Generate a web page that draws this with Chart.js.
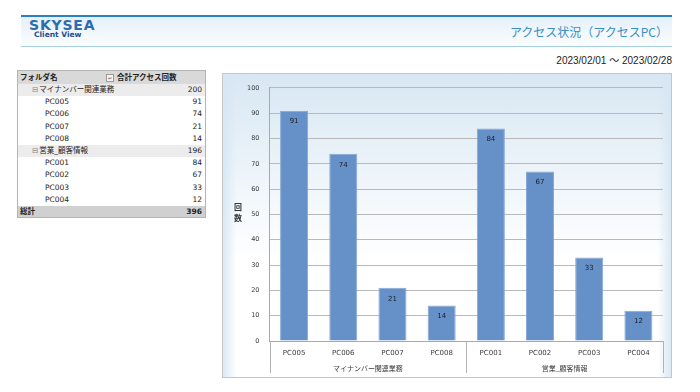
<!DOCTYPE html>
<html lang="ja">
<head>
<meta charset="utf-8">
<script src="https://cdn.jsdelivr.net/npm/chart.js@4/dist/chart.umd.min.js"></script>
<style>
  body { margin: 0; width: 700px; height: 392px; background: #fff; position: relative; overflow: hidden;
         font-family: "DejaVu Sans", "Noto Sans CJK JP", sans-serif; color: #222; }
  .band { position: absolute; left: 21px; top: 15px; width: 651px; height: 29px;
          border-top: 2px solid #2a80c2; border-bottom: 1px solid #a4cde6;
          background: linear-gradient(to bottom, #e4f0f9 0%, #f3f8fc 60%, #fbfdfe 100%); }
  .logo1 { position: absolute; left: 29px; top: 17px; font: bold 14px "DejaVu Sans", sans-serif;
           letter-spacing: 0.8px; color: #2b6db0; }
  .logo2 { position: absolute; left: 34px; top: 30px; font: bold 7.5px "DejaVu Sans", sans-serif; color: #1d4f8c; }
  .title { position: absolute; right: 32px; top: 23px; font: 12px "Noto Sans CJK JP", sans-serif; color: #3a8ec4; }
  .period { position: absolute; right: 28px; top: 52px; font: 10px "Liberation Sans", "Noto Sans CJK JP", sans-serif; color: #222; }
  .pivot { position: absolute; left: 17px; top: 70px; width: 187px; border: 1px solid #b4b4b4;
           font: 7.5px "DejaVu Sans", "Noto Sans CJK JP", sans-serif; }
  .pivot .row { position: relative; height: 12.2px; line-height: 12.2px; white-space: nowrap; }
  .pivot .row.head { height: 13px; line-height: 13px; background: #d9d9d9; font-weight: bold; }
  .pivot .row.group { background: #ececec; }
  .pivot .row.total { height: 11px; line-height: 11px; background: #d0d0d0; font-weight: bold; }
  .pivot .name { position: absolute; left: 2px; }
  .pivot .val { position: absolute; right: 3px; }
  .pivot .head .val { right: auto; left: 99px; }
  .pivot .filter { position: absolute; left: 88px; top: 3px; width: 6px; height: 6px; border: 1px solid #9a9a9a;
                   background: #f4f4f4; font-size: 5px; line-height: 6px; text-align: center; font-weight: normal; color: #555; }
  .pivot .toggle { color: #888; margin-right: 1px; }
  .chartbox { position: absolute; left: 222px; top: 73px; width: 450px; height: 305px; box-sizing: border-box;
              border: 1px solid #c6c6c6;
              background:
                linear-gradient(to right, rgba(214,230,243,0.9) 0, rgba(255,255,255,0) 3%, rgba(255,255,255,0) 97%, rgba(214,230,243,0.9) 100%),
                linear-gradient(to bottom, #d7e7f3 0%, #e8f1f8 25%, #f8fbfd 50%, #ffffff 62%); }
  .chartbox canvas { position: absolute; left: 0; top: 0; }
  .ytitle { position: absolute; left: 10px; top: 127px; width: 10px; text-align: center;
            font: bold 8px "Noto Sans CJK JP", sans-serif; line-height: 11px; color: #333; }
</style>
</head>
<body>
<div class="band"></div>
<div class="logo1">SKYSEA</div>
<div class="logo2">Client View</div>
<div class="title">アクセス状況（アクセスPC）</div>
<div class="period">2023/02/01 ～ 2023/02/28</div>

<div class="pivot" id="pivot"></div>

<div class="chartbox">
  <canvas id="accessChart" width="448" height="303"></canvas>
  <div class="ytitle">回<br>数</div>
</div>

<script>
  // data
  const categories = ['PC005', 'PC006', 'PC007', 'PC008', 'PC001', 'PC002', 'PC003', 'PC004'];
  const accessCounts = [91, 74, 21, 14, 84, 67, 33, 12];
  const groupNames = ['マイナンバー関連業務', '営業_顧客情報'];
  const groupSizes = [4, 4];
  const yMax = 100;
  const yStep = 10;

  const tickColor = '#3a3a3a';
  const gridColor = '#b9b9b9';

  //pivot table
  const pivot = document.getElementById('pivot');

  function addRow(cls, name, val) {
    const row = document.createElement('div');
    row.className = 'row ' + cls;
    row.innerHTML = '<span class="name">' + name + '</span><span class="val">' + val + '</span>';
    pivot.appendChild(row);
    return row;
  }

  const head = addRow('head', 'フォルダ名', '合計アクセス回数');
  const filter = document.createElement('span');
  filter.className = 'filter';
  filter.textContent = '↵';
  head.appendChild(filter);

  let start = 0;
  let total = 0;
  groupNames.forEach(function (g, gi) {
    const items = categories.slice(start, start + groupSizes[gi]);
    const vals = accessCounts.slice(start, start + groupSizes[gi]);
    const sum = vals.reduce(function (a, b) { return a + b; }, 0);
    const r = addRow('group', '<span class="toggle">⊟</span>' + g, sum);
    r.querySelector('.name').style.left = '14px';
    items.forEach(function (name, i) {
      const ir = addRow('item', name, vals[i]);
      ir.querySelector('.name').style.left = '27px';
    });
    total += sum;
    start += groupSizes[gi];
  });
  addRow('total', '総計', total);

  //plugins
  const valueLabels = {
    id: 'valueLabels',
    afterDatasetsDraw(chart) {
      const ctx = chart.ctx;
      const meta = chart.getDatasetMeta(0);
      ctx.save();
      ctx.font = '7px "DejaVu Sans"';
      ctx.fillStyle = '#1e1e1e';
      ctx.textAlign = 'center';
      ctx.textBaseline = 'middle';
      meta.data.forEach(function (bar, i) {
        ctx.fillText(String(accessCounts[i]), bar.x, bar.y + 11);
      });
      ctx.restore();
    }
  };

  const groupSeparators = {
    id: 'groupSeparators',
    afterDraw(chart) {
      const ctx = chart.ctx;
      const x = chart.scales.x;
      const x2 = chart.scales.x2;
      const area = chart.chartArea;
      const bounds = [-0.5];
      let acc = 0;
      groupSizes.forEach(function (n) { acc += n; bounds.push(acc - 0.5); });
      ctx.save();
      ctx.strokeStyle = '#b3b3b3';
      ctx.lineWidth = 1;
      bounds.forEach(function (b) {
        const px = Math.round(x.getPixelForValue(b)) + 0.5;
        ctx.beginPath();
        ctx.moveTo(px, area.bottom);
        ctx.lineTo(px, x2.bottom - 4);
        ctx.stroke();
      });
      ctx.restore();
    }
  };

  //chart
  const ctx = document.getElementById('accessChart').getContext('2d');

  const chart = new Chart(ctx, {
    type: 'bar',
    data: {
      labels: categories,
      datasets: [{
        data: accessCounts,
        backgroundColor: '#6590c8',
        borderColor: '#86a8d6',
        borderWidth: 1,
        categoryPercentage: 1,
        barPercentage: 0.57
      }]
    },
    options: {
      responsive: false,
      animation: false,
      devicePixelRatio: 1,
      layout: { padding: { top: 9, right: 8, left: 0, bottom: 0 } },
      plugins: {
        legend: { display: false },
        tooltip: { enabled: false }
      },
      scales: {
        y: {
          min: 0,
          max: yMax,
          ticks: { stepSize: yStep, color: tickColor, padding: 10, font: { family: 'DejaVu Sans', size: 6.5 } },
          grid: { color: gridColor, drawTicks: false },
          border: { color: '#a9a9a9' },
          afterFit: function (s) { s.width = 46.5; }
        },
        x: {
          weight: 0,
          grid: { display: false, drawTicks: false },
          border: { color: '#a9a9a9' },
          ticks: { padding: 8, color: tickColor, maxRotation: 0, autoSkip: false, font: { family: 'DejaVu Sans', size: 7 } },
          afterFit: function (s) { s.height = 20; }
        },
        x2: {
          type: 'category',
          labels: groupNames,
          offset: true,
          position: 'bottom',
          weight: 1,
          grid: { display: false, drawTicks: false },
          border: { display: false },
          ticks: { padding: 3, color: tickColor, maxRotation: 0, font: { family: 'Noto Sans CJK JP', size: 7 } },
          afterFit: function (s) { s.height = 16; }
        }
      }
    },
    plugins: [valueLabels, groupSeparators]
  });
</script>
</body>
</html>
